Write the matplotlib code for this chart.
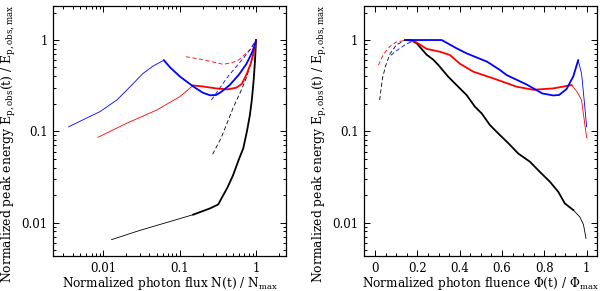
import matplotlib.pyplot as plt
from matplotlib.ticker import FixedLocator, MultipleLocator, LogLocator, NullFormatter

plt.rcParams['font.family'] = 'DejaVu Serif'
plt.rcParams['mathtext.fontset'] = 'dejavuserif'

# === left panel data: E_p vs photon flux ===
l_black_thin_x = [0.0128, 0.03, 0.07, 0.15]
l_black_thin_y = [0.0065, 0.0082, 0.0101, 0.0122]
l_black_x = [0.15, 0.25, 0.32, 0.36, 0.42, 0.5, 0.6, 0.68, 0.76, 0.83, 0.88, 0.93, 0.97, 1.0]
l_black_y = [0.0122, 0.0143, 0.0158, 0.019, 0.024, 0.033, 0.05, 0.065, 0.1, 0.15, 0.22, 0.36, 0.6, 1.0]
l_black_dash_x = [0.27, 0.35, 0.5, 0.65, 0.75, 0.88, 1.0]
l_black_dash_y = [0.056, 0.085, 0.18, 0.29, 0.39, 0.6, 1.0]

l_blue_thin_x = [0.0035, 0.009, 0.015, 0.02, 0.033, 0.045, 0.062]
l_blue_thin_y = [0.112, 0.164, 0.22, 0.28, 0.43, 0.52, 0.60]
l_blue_x = [0.062, 0.075, 0.1, 0.15, 0.2, 0.25, 0.3, 0.35, 0.45, 0.6, 0.75, 0.88, 0.96, 1.0]
l_blue_y = [0.60, 0.50, 0.40, 0.31, 0.265, 0.248, 0.25, 0.27, 0.32, 0.42, 0.55, 0.72, 0.88, 1.0]
l_blue_dash_x = [0.26, 0.43, 0.68, 0.85, 1.0]
l_blue_dash_y = [0.22, 0.40, 0.63, 0.8, 1.0]

l_red_thin_x = [0.0085, 0.02, 0.05, 0.1, 0.15]
l_red_thin_y = [0.086, 0.122, 0.171, 0.239, 0.318]
l_red_x = [0.15, 0.2, 0.3, 0.42, 0.55, 0.65, 0.75, 0.85, 0.92, 0.97, 1.0]
l_red_y = [0.318, 0.31, 0.295, 0.288, 0.3, 0.33, 0.42, 0.55, 0.70, 0.85, 1.0]
l_red_dash_x = [0.12, 0.2, 0.373, 0.5, 0.6, 0.83, 1.0]
l_red_dash_y = [0.656, 0.61, 0.541, 0.57, 0.61, 0.78, 1.0]

# === right panel data: E_p vs photon fluence ===
r_black_dash_x = [0.022, 0.035, 0.05, 0.07, 0.1, 0.142]
r_black_dash_y = [0.22, 0.38, 0.52, 0.70, 0.88, 1.0]
r_red_dash_x = [0.016, 0.04, 0.07, 0.1, 0.15]
r_red_dash_y = [0.53, 0.70, 0.85, 0.95, 1.0]
r_blue_dash_x = [0.075, 0.1, 0.14, 0.18]
r_blue_dash_y = [0.68, 0.76, 0.88, 0.98]

r_black_x = [0.142, 0.17, 0.197, 0.244, 0.275, 0.3, 0.346, 0.401, 0.433, 0.472, 0.504,
             0.543, 0.59, 0.63, 0.677, 0.732, 0.779, 0.827, 0.866, 0.897, 0.937]
r_black_y = [1.0, 1.0, 0.92, 0.69, 0.61, 0.53, 0.396, 0.295, 0.249, 0.186, 0.157,
             0.117, 0.091, 0.074, 0.057, 0.0464, 0.0359, 0.0279, 0.0217, 0.0162, 0.0137]
r_black_thin_x = [0.937, 0.968, 0.985, 0.997]
r_black_thin_y = [0.0137, 0.0115, 0.0095, 0.0067]

r_blue_x = [0.15, 0.2, 0.315, 0.386, 0.433, 0.53, 0.59, 0.622, 0.717, 0.79, 0.842, 0.87, 0.905, 0.937, 0.96]
r_blue_y = [1.0, 1.0, 1.0, 0.81, 0.714, 0.578, 0.47, 0.413, 0.325, 0.26, 0.247, 0.25, 0.29, 0.40, 0.60]
r_blue_thin_x = [0.96, 0.976, 0.99, 1.0]
r_blue_thin_y = [0.60, 0.43, 0.2, 0.112]

r_red_x = [0.15, 0.19, 0.244, 0.307, 0.354, 0.401, 0.465, 0.559, 0.669, 0.748, 0.842, 0.929]
r_red_y = [1.0, 0.96, 0.80, 0.744, 0.685, 0.55, 0.449, 0.38, 0.308, 0.285, 0.295, 0.321]
r_red_thin_x = [0.929, 0.955, 0.976, 1.0]
r_red_thin_y = [0.321, 0.27, 0.22, 0.085]

y_ticks = [0.01, 0.1, 1]
y_ticklabels = ['0.01', '0.1', '1']
l_x_ticks = [0.01, 0.1, 1]
l_x_ticklabels = ['0.01', '0.1', '1']
r_x_ticks = [0, 0.2, 0.4, 0.6, 0.8, 1.0]
r_x_ticklabels = ['0', '0.2', '0.4', '0.6', '0.8', '1']

BLUE = '#0000ff'
RED = '#ff0000'
THICK = 1.3
THIN = 0.6
DASH = (0, (5, 3))

fig = plt.figure(figsize=(6, 2.91), dpi=100)
ax1 = fig.add_axes([0.0889, 0.1203, 0.3878, 0.8591])
ax2 = fig.add_axes([0.6067, 0.1203, 0.3883, 0.8591])

# left
ax1.plot(l_black_thin_x, l_black_thin_y, color='k', lw=THIN)
ax1.plot(l_black_x, l_black_y, color='k', lw=THICK)
ax1.plot(l_black_dash_x, l_black_dash_y, color='k', lw=THIN, ls=DASH)
ax1.plot(l_red_thin_x, l_red_thin_y, color=RED, lw=THIN)
ax1.plot(l_red_x, l_red_y, color=RED, lw=THICK)
ax1.plot(l_red_dash_x, l_red_dash_y, color=RED, lw=THIN, ls=DASH)
ax1.plot(l_blue_thin_x, l_blue_thin_y, color=BLUE, lw=THIN)
ax1.plot(l_blue_x, l_blue_y, color=BLUE, lw=THICK)
ax1.plot(l_blue_dash_x, l_blue_dash_y, color=BLUE, lw=THIN, ls=DASH)
ax1.set_xscale('log')
ax1.set_yscale('log')
ax1.set_xlim(0.00221, 2.47)
ax1.xaxis.set_major_locator(FixedLocator(l_x_ticks))
ax1.xaxis.set_minor_locator(LogLocator(base=10, subs=range(2, 10)))
ax1.xaxis.set_minor_formatter(NullFormatter())
ax1.set_xticklabels(l_x_ticklabels)
ax1.set_xlabel('Normalized photon flux N(t) / N$_{\\rm max}$', labelpad=0)

# right
ax2.plot(r_black_dash_x, r_black_dash_y, color='k', lw=THIN, ls=DASH)
ax2.plot(r_red_dash_x, r_red_dash_y, color=RED, lw=THIN, ls=DASH)
ax2.plot(r_blue_dash_x, r_blue_dash_y, color=BLUE, lw=THIN, ls=DASH)
ax2.plot(r_black_x, r_black_y, color='k', lw=THICK)
ax2.plot(r_black_thin_x, r_black_thin_y, color='k', lw=THIN)
ax2.plot(r_red_x, r_red_y, color=RED, lw=THICK)
ax2.plot(r_red_thin_x, r_red_thin_y, color=RED, lw=THIN)
ax2.plot(r_blue_x, r_blue_y, color=BLUE, lw=THICK)
ax2.plot(r_blue_thin_x, r_blue_thin_y, color=BLUE, lw=THIN)
ax2.set_yscale('log')
ax2.set_xlim(-0.052, 1.049)
ax2.set_xticks(r_x_ticks)
ax2.set_xticklabels(r_x_ticklabels)
ax2.xaxis.set_minor_locator(MultipleLocator(0.05))
ax2.set_xlabel('Normalized photon fluence $\\Phi$(t) / $\\Phi_{\\rm max}$', labelpad=0)

for ax in (ax1, ax2):
    ax.set_ylim(0.0043, 2.36)
    ax.yaxis.set_major_locator(FixedLocator(y_ticks))
    ax.yaxis.set_minor_locator(LogLocator(base=10, subs=range(2, 10)))
    ax.yaxis.set_minor_formatter(NullFormatter())
    ax.set_yticklabels(y_ticklabels)
    ax.tick_params(which='both', direction='in', top=True, right=True, labelsize=8.5, width=0.7)
    ax.tick_params(which='major', length=4, pad=4)
    ax.tick_params(which='minor', length=2)
    for s in ax.spines.values():
        s.set_linewidth(0.9)
    ax.set_ylabel('Normalized peak energy E$_{\\rm p,obs}$(t) / E$_{\\rm p,obs,max}$', fontsize=8.9)
    ax.yaxis.set_label_coords(-0.152, 0.45)
    ax.xaxis.label.set_size(8.7)

fig.savefig('out.png', dpi=100)
